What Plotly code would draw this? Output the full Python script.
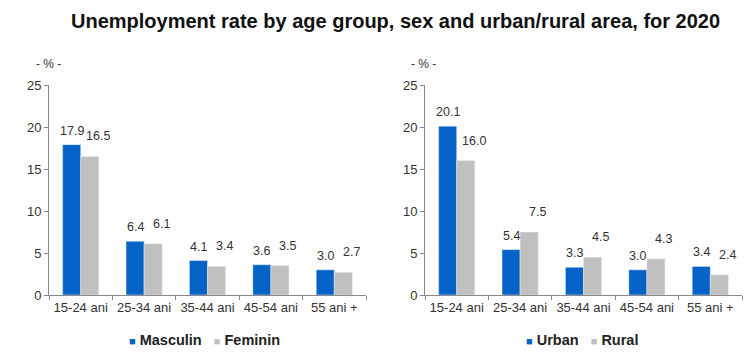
import plotly.graph_objects as go

categories = ["15-24 ani", "25-34 ani", "35-44 ani", "45-54 ani", "55 ani +"]
masculin = [17.9, 6.4, 4.1, 3.6, 3.0]
feminin = [16.5, 6.1, 3.4, 3.5, 2.7]
urban = [20.1, 5.4, 3.3, 3.0, 3.4]
rural = [16.0, 7.5, 4.5, 4.3, 2.4]
title = "Unemployment rate by age group, sex and urban/rural area, for 2020"

BLUE = "#0563C8"
GRAY = "#C0C0C0"
FONT = "Liberation Sans, Arial, sans-serif"
TXT = "#333333"
BARGAP = 0.43
W, H = 755, 361
OFF = 8  # page body margin


def px(x):
    return (x - OFF) / W


def py(y):
    return 1 - (y - OFF) / H


fig = go.Figure()


def add_bar(name, vals, color, xa, ya):
    fig.add_trace(go.Bar(x=categories, y=vals, name=name, marker_color=color,
                         xaxis=xa, yaxis=ya, showlegend=False))


add_bar("Masculin", masculin, BLUE, "x", "y")
add_bar("Feminin", feminin, GRAY, "x", "y")
add_bar("Urban", urban, BLUE, "x2", "y2")
add_bar("Rural", rural, GRAY, "x2", "y2")

half = (1 - BARGAP) / 4
for xr, yr, first, second in [("x", "y", masculin, feminin), ("x2", "y2", urban, rural)]:
    for i, (a, b) in enumerate(zip(first, second)):
        fig.add_annotation(x=i - half, y=a, xref=xr, yref=yr, text=f"{a:.1f}",
                           showarrow=False, yanchor="middle", yshift=14,
                           font=dict(family=FONT, size=12.5, color=TXT))
        fig.add_annotation(x=i + half, y=b, xref=xr, yref=yr, text=f"{b:.1f}",
                           showarrow=False, yanchor="middle", yshift=20, xshift=8,
                           font=dict(family=FONT, size=12.5, color=TXT))

ydom = [py(295), py(85)]
axis_common = dict(showgrid=False, showline=True, linecolor="#888888", linewidth=1,
                   automargin=False, ticks="outside", ticklen=4, tickcolor="#888888",
                   tickfont=dict(family=FONT, size=13, color=TXT))
fig.update_layout(
    width=W, height=H,
    margin=dict(l=0, r=0, t=0, b=0),
    paper_bgcolor="white", plot_bgcolor="white",
    barmode="group", bargap=BARGAP, bargroupgap=0,
    font=dict(family=FONT, color=TXT),
    xaxis=dict(domain=[px(49), px(366)], anchor="y", tickson="boundaries", **axis_common),
    yaxis=dict(domain=ydom, anchor="x", range=[0, 25], dtick=5, **axis_common),
    xaxis2=dict(domain=[px(425), px(742)], anchor="y2", tickson="boundaries", **axis_common),
    yaxis2=dict(domain=ydom, anchor="x2", range=[0, 25], dtick=5, **axis_common),
    showlegend=False,
)

fig.add_annotation(text=f"<b>{title}</b>", xref="paper", yref="paper", x=px(395), y=py(8),
                   xanchor="center", yanchor="top", showarrow=False,
                   font=dict(family=FONT, size=20, color="#111111"))
for xp in [48, 423]:
    fig.add_annotation(text="- % -", xref="paper", yref="paper", x=px(xp), y=py(64),
                       xanchor="center", yanchor="middle", showarrow=False,
                       font=dict(family=FONT, size=12, color=TXT))

for xc, (n1, n2) in [(204, ("Masculin", "Feminin")), (582, ("Urban", "Rural"))]:
    txt = (f"<span style='color:{BLUE};font-size:11px'>■</span> <b>{n1}</b>   "
           f"<span style='color:{GRAY};font-size:11px'>■</span> <b>{n2}</b>")
    fig.add_annotation(text=txt, xref="paper", yref="paper", x=px(xc), y=py(340),
                       xanchor="center", yanchor="middle", showarrow=False,
                       font=dict(family=FONT, size=14.5, color="#222222"))

fig.write_html("out.html")
